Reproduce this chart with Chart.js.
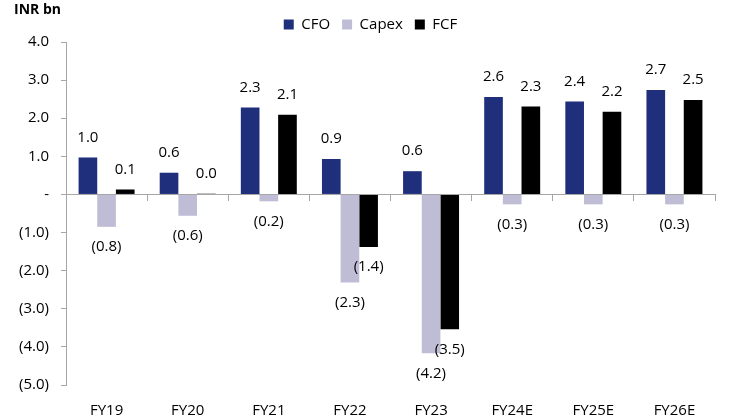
<!DOCTYPE html>
<html>
<head>
<meta charset="utf-8">
<script src="https://cdn.jsdelivr.net/npm/chart.js@4.4.1/dist/chart.umd.min.js"></script>
<style>
  html, body { margin: 0; padding: 0; background: #fff; }
  #wrap { width: 740px; height: 419px; position: relative; }
</style>
</head>
<body>
<div id="wrap"><canvas id="chart" width="740" height="419"></canvas></div>
<script>
// values (INR bn)
var categories = ['FY19', 'FY20', 'FY21', 'FY22', 'FY23', 'FY24E', 'FY25E', 'FY26E'];
var cfo   = [0.97, 0.57, 2.28, 0.93, 0.61, 2.56, 2.44, 2.74];
var capex = [-0.85, -0.56, -0.18, -2.31, -4.17, -0.26, -0.26, -0.26];
var fcf   = [0.13, 0.02, 2.09, -1.38, -3.54, 2.31, 2.17, 2.48];
var yTicks = [4, 3, 2, 1, 0, -1, -2, -3, -4, -5];

var FONT = 'Open Sans';
var FSIZE = 15;
var AXIS_GREY = '#a6a6a6';

function fmt(v) {
  if (Math.abs(v) < 1e-9) return '-';
  return v < 0 ? '(' + Math.abs(v).toFixed(1) + ')' : v.toFixed(1);
}
function fmtLabel(v) {
  return v < 0 ? '(' + Math.abs(v).toFixed(1) + ')' : v.toFixed(1);
}

// labels above/below each bar, plus the unit caption
var barLabels = {
  id: 'barLabels',
  afterLayout: function(chart) {
    // legend sits centred on the whole picture, not on the padded box
    chart.legend.left += 13;
    chart.legend.right += 13;
  },
  afterDatasetsDraw: function(chart) {
    var ctx = chart.ctx;
    ctx.save();
    ctx.font = FSIZE + 'px "' + FONT + '"';
    ctx.fillStyle = '#000';
    ctx.textAlign = 'center';
    ctx.textBaseline = 'middle';
    chart.data.datasets.forEach(function(ds, i) {
      var meta = chart.getDatasetMeta(i);
      meta.data.forEach(function(bar, j) {
        var v = ds.data[j];
        var y = v < 0 ? bar.y + 20 : bar.y - 20;
        ctx.fillText(fmtLabel(v), bar.x, y);
      });
    });
    ctx.font = 'bold 14px "' + FONT + '"';
    ctx.textAlign = 'left';
    ctx.fillText('INR bn', 14, 10);
    ctx.restore();
  }
};

var ctx = document.getElementById('chart').getContext('2d');
var chart = new Chart(ctx, {
  type: 'bar',
  data: {
    labels: categories,
    datasets: [
      { label: 'CFO', data: cfo, backgroundColor: '#1f2f7c' },
      { label: 'Capex', data: capex, backgroundColor: '#bfbdd6' },
      { label: 'FCF', data: fcf, backgroundColor: '#000000' }
    ]
  },
  options: {
    responsive: false,
    animation: false,
    datasets: { bar: { categoryPercentage: 0.69, barPercentage: 1.0 } },
    layout: { padding: { top: 5, right: 25, left: 0, bottom: 0 } },
    plugins: {
      tooltip: { enabled: false },
      legend: {
        position: 'top',
        labels: {
          boxWidth: 10, boxHeight: 10, padding: 12,
          color: '#000',
          font: { family: FONT, size: FSIZE }
        }
      }
    },
    scales: {
      y: {
        min: -5, max: 4,
        afterBuildTicks: function(scale) {
          scale.ticks = yTicks.map(function(v) { return { value: v }; });
        },
        afterFit: function(scale) { scale.width = 66; },
        border: { display: true, color: AXIS_GREY, width: 1 },
        grid: { drawOnChartArea: false, tickLength: 5, color: AXIS_GREY },
        ticks: {
          color: '#000', padding: 12,
          font: { family: FONT, size: FSIZE },
          callback: function(v) { return fmt(v); }
        }
      },
      x: {
        position: { y: 0 },
        border: { display: true, color: AXIS_GREY, width: 1 },
        grid: { drawOnChartArea: false, tickLength: 6, color: AXIS_GREY, offset: true },
        ticks: { display: false }
      },
      x2: {
        type: 'category',
        labels: categories,
        position: 'bottom',
        offset: true,
        border: { display: false },
        grid: { display: false, drawTicks: false },
        afterFit: function(scale) { scale.height = 34; },
        ticks: {
          color: '#000', padding: 17, maxRotation: 0,
          font: { family: FONT, size: FSIZE }
        }
      }
    }
  },
  plugins: [barLabels]
});
</script>
</body>
</html>
